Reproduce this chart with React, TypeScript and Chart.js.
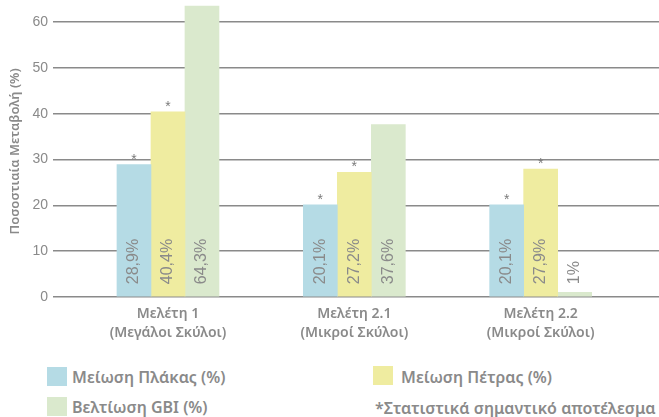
import React, { useEffect, useRef } from 'react';
import { Chart, registerables } from 'chart.js';

Chart.register(...registerables);

const categories: string[][] = [
  ['Μελέτη 1', '(Μεγάλοι Σκύλοι)'],
  ['Μελέτη 2.1', '(Μικροί Σκύλοι)'],
  ['Μελέτη 2.2', '(Μικροί Σκύλοι)'],
];
const seriesNames = ['Μείωση Πλάκας (%)', 'Μείωση Πέτρας (%)', 'Βελτίωση GBI (%)'];
const plaqueReduction = [28.9, 20.1, 20.1];
const stoneReduction = [40.4, 27.2, 27.9];
const gbiImprovement = [64.3, 37.6, 1];
const plaqueLabels = ['28,9%', '20,1%', '20,1%'];
const stoneLabels = ['40,4%', '27,2%', '27,9%'];
const gbiLabels = ['64,3%', '37,6%', '1%'];
const plaqueSignificant = [true, true, true];
const stoneSignificant = [true, true, true];
const gbiSignificant = [false, false, false];
const yTitle = 'Ποσοστιαία Μεταβολή (%)';
const footnote = '*Στατιστικά σημαντικό αποτέλεσμα';

const colors = ['#b5dbe5', '#efeca0', '#dae9cd'];
const valueLabels = [plaqueLabels, stoneLabels, gbiLabels];
const significant = [plaqueSignificant, stoneSignificant, gbiSignificant];
const seriesValues = [plaqueReduction, stoneReduction, gbiImprovement];
const textGray = '#8a8a8a';

const labelPlugin = {
  id: 'barLabels',
  afterDatasetsDraw(chart: any) {
    const ctx = chart.ctx;
    const area = chart.chartArea;
    chart.data.datasets.forEach((_ds: any, di: number) => {
      const meta = chart.getDatasetMeta(di);
      meta.data.forEach((bar: any, i: number) => {
        const { x, y, base } = bar.getProps(['x', 'y', 'base'], true);
        ctx.save();
        ctx.translate(x, base - 12);
        ctx.rotate(-Math.PI / 2);
        ctx.font = '16px "Liberation Sans", Arial, sans-serif';
        ctx.fillStyle = textGray;
        ctx.textAlign = 'left';
        ctx.textBaseline = 'middle';
        ctx.fillText(valueLabels[di][i], 0, 0);
        ctx.restore();
        if (significant[di][i]) {
          ctx.save();
          ctx.font = '14px "Liberation Sans", Arial, sans-serif';
          ctx.fillStyle = '#7a7a7a';
          ctx.textAlign = 'center';
          ctx.textBaseline = 'alphabetic';
          ctx.fillText('*', x, Math.max(y, area.top) - 1);
          ctx.restore();
        }
      });
    });
  },
};

export default function App() {
  const canvasRef = useRef<HTMLCanvasElement | null>(null);

  useEffect(() => {
    if (!canvasRef.current) return;
    const chart = new Chart(canvasRef.current, {
      type: 'bar',
      data: {
        datasets: seriesNames.map((name, di) => ({
          label: name,
          data: seriesValues[di].map((v, i) => ({ x: i, y: v })),
          backgroundColor: colors[di],
          borderWidth: 0,
          barThickness: 34,
        })),
      },
      options: {
        animation: false,
        responsive: false,
        maintainAspectRatio: false,
        devicePixelRatio: 1,
        layout: { padding: { top: 0, left: 0, right: 0, bottom: 0 } },
        plugins: { legend: { display: false }, tooltip: { enabled: false } },
        scales: {
          x: {
            type: 'linear',
            min: -0.617,
            max: 2.635,
            bounds: 'data',
            offset: false,
            grid: { display: false, offset: false },
            border: { display: false },
            afterBuildTicks: (s: any) => {
              s.ticks = categories.map((_c, i) => ({ value: i }));
            },
            ticks: {
              autoSkip: false,
              maxRotation: 0,
              minRotation: 0,
              padding: 0,
              color: textGray,
              font: { family: '"Noto Sans", sans-serif', weight: '600', size: 14, lineHeight: 1.35 },
              callback: (_v: any, index: number) => categories[index],
            },
            afterFit: (s: any) => {
              s.height = 48;
            },
          },
          y: {
            min: 0,
            max: 63.56,
            grid: { color: '#8a8a8a', lineWidth: 1.5, drawTicks: false },
            border: { display: false },
            ticks: {
              stepSize: 10,
              includeBounds: false,
              padding: 5,
              color: textGray,
              font: { family: '"Liberation Sans", Arial, sans-serif', size: 14, lineHeight: 0.1 },
            },
            title: {
              display: true,
              text: yTitle,
              color: textGray,
              font: { family: '"Noto Sans", sans-serif', weight: '600', size: 13 },
              padding: { top: 7, bottom: 0 },
            },
            afterFit: (s: any) => {
              s.width = 53;
            },
          },
        },
      } as any,
      plugins: [labelPlugin],
    });
    return () => chart.destroy();
  }, []);

  const legendText: React.CSSProperties = {
    position: 'absolute',
    fontFamily: '"Noto Sans", sans-serif',
    fontWeight: 600,
    fontSize: 16,
    lineHeight: '20px',
    color: textGray,
    whiteSpace: 'nowrap',
  };
  const swatch = (left: number, top: number, color: string): React.CSSProperties => ({
    position: 'absolute',
    left,
    top,
    width: 20,
    height: 19,
    background: color,
  });

  return (
    <div style={{ position: 'absolute', left: 0, top: 0, width: 659, height: 417, background: '#fff', overflow: 'hidden' }}>
      <canvas ref={canvasRef} width={659} height={345} style={{ display: 'block', width: 659, height: 345 }} />
      <div style={swatch(47, 367, colors[0])} />
      <div style={{ ...legendText, left: 72, top: 367 }}>{seriesNames[0]}</div>
      <div style={swatch(373, 366, colors[1])} />
      <div style={{ ...legendText, left: 401, top: 367 }}>{seriesNames[1]}</div>
      <div style={swatch(47, 397, colors[2])} />
      <div style={{ ...legendText, left: 72, top: 397 }}>{seriesNames[2]}</div>
      <div style={{ ...legendText, left: 375, top: 398 }}>{footnote}</div>
    </div>
  );
}
